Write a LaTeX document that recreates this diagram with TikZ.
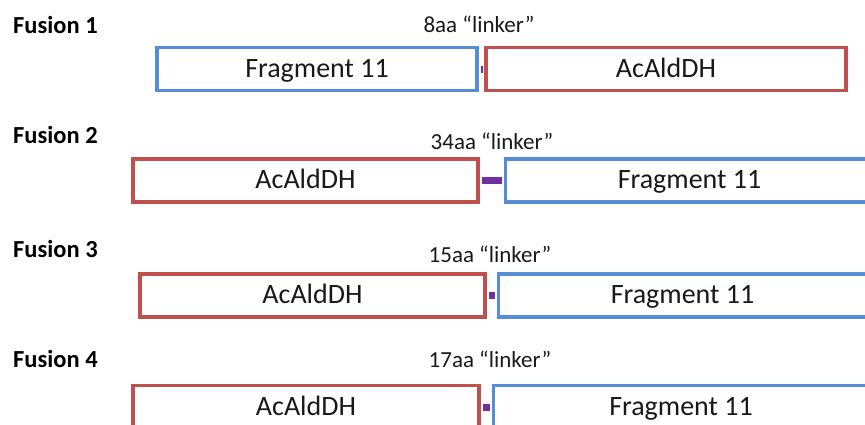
\documentclass[tikz,border=0pt]{standalone}
\usepackage{fontspec}
\setmainfont{Carlito}
\usetikzlibrary{positioning}
\definecolor{FusBlue}{RGB}{85,142,213}
\definecolor{FusRed}{RGB}{192,80,77}
\definecolor{FusPurple}{RGB}{112,48,160}
\definecolor{FusText}{RGB}{25,25,25}
\tikzset{
  fus/frag/.style={
    draw=FusBlue,
    line width=3.5pt,
    fill=white,
    inner sep=0pt,
    minimum height=43pt,
    text height=20pt,
    text depth=4pt,
    text=FusText,
    font=\fontsize{28pt}{30pt}\selectfont
  },
  fus/enzyme/.style={
    draw=FusRed,
    line width=3.5pt,
    fill=white,
    inner sep=0pt,
    minimum height=43pt,
    text height=20pt,
    text depth=4pt,
    text=FusText,
    font=\fontsize{28pt}{30pt}\selectfont
  },
  fus/linker/.style={draw=FusPurple, line width=7pt, shorten <=1.75pt, shorten >=1.75pt},
  fus/title/.style={anchor=base west, inner sep=0pt, text=black, font=\bfseries\fontsize{24.5pt}{28pt}\selectfont},
  fus/note/.style={anchor=base, inner sep=0pt, text=FusText, font=\fontsize{23pt}{26pt}\selectfont}
}

\begin{document}
\begin{tikzpicture}[x=1pt,y=-1pt]
  \useasboundingbox (0,0) rectangle (865,424);
  \clip (0,0) rectangle (865,424);
  % fusion 1
  \node[fus/title] (title1) at (13,33) {Fusion 1};
  \node[fus/note] (note1) at (479,32) {8aa “linker”};
  \node[fus/frag,minimum width=320pt] (frag1) at (317,69) {Fragment 11};
  \node[fus/enzyme,minimum width=360pt] (ald1) at (666,69) {AcAldDH};
  \draw[fus/linker] (frag1) -- (ald1);
  % fusion 2
  \node[fus/title] (title2) at (13,143) {Fusion 2};
  \node[fus/note] (note2) at (492,149) {34aa “linker”};
  \node[fus/enzyme,minimum width=345pt] (ald2) at (305.5,180.5) {AcAldDH};
  \node[fus/frag,minimum width=368pt] (frag2) at (689.5,180.5) {Fragment 11};
  \draw[fus/linker] (ald2) -- (frag2);
  % fusion 3
  \node[fus/title] (title3) at (13,257) {Fusion 3};
  \node[fus/note] (note3) at (490,262) {15aa “linker”};
  \node[fus/enzyme,minimum width=345pt] (ald3) at (312.5,295.5) {AcAldDH};
  \node[fus/frag,minimum width=368pt] (frag3) at (682.5,295.5) {Fragment 11};
  \draw[fus/linker] (ald3) -- (frag3);
  % fusion 4
  \node[fus/title] (title4) at (13,367) {Fusion 4};
  \node[fus/note] (note4) at (490,367) {17aa “linker”};
  \node[fus/enzyme,minimum width=346pt] (ald4) at (306,407) {AcAldDH};
  \node[fus/frag,minimum width=375pt] (frag4) at (681,407) {Fragment 11};
  \draw[fus/linker] (ald4) -- (frag4);
\end{tikzpicture}
\end{document}
